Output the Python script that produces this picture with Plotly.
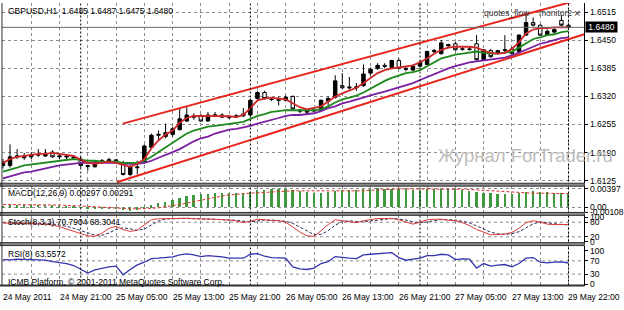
import plotly.graph_objects as go

W, H = 624, 310
FONT = "Liberation Sans, Arial, sans-serif"

bars = list(range(81))
time_labels = ["24 May 2011", "24 May 21:00", "25 May 05:00", "25 May 13:00", "25 May 21:00",
               "26 May 05:00", "26 May 13:00", "26 May 21:00", "27 May 05:00", "27 May 13:00",
               "29 May 22:00"]
time_label_bars = [0, 8, 16, 24, 32, 40, 48, 56, 64, 72, 80]
day_starts = [11, 35, 59, 80]
grid_bars = list(range(0, 81, 4))

opens = [1.6160, 1.6160, 1.6180, 1.6182, 1.6180, 1.6184, 1.6182, 1.6191, 1.6180, 1.6182,
         1.6180, 1.6175, 1.6160, 1.6157, 1.6168, 1.6171, 1.6173, 1.6166, 1.6139, 1.6157,
         1.6168, 1.6202, 1.6230, 1.6227, 1.6232, 1.6243, 1.6263, 1.6275, 1.6275, 1.6263,
         1.6276, 1.6277, 1.6272, 1.6272, 1.6275, 1.6277, 1.6315, 1.6329, 1.6314, 1.6311,
         1.6311, 1.6320, 1.6288, 1.6285, 1.6286, 1.6288, 1.6309, 1.6318, 1.6345, 1.6342,
         1.6340, 1.6345, 1.6374, 1.6385, 1.6392, 1.6387, 1.6403, 1.6385, 1.6381, 1.6390,
         1.6394, 1.6424, 1.6419, 1.6437, 1.6442, 1.6429, 1.6430, 1.6442, 1.6405, 1.6426,
         1.6421, 1.6427, 1.6430, 1.6424, 1.6462, 1.6491, 1.6485, 1.6462, 1.6469, 1.6496,
         1.6485]
highs = [1.6175, 1.6209, 1.6198, 1.6189, 1.6191, 1.6198, 1.6198, 1.6195, 1.6186, 1.6186,
         1.6184, 1.6180, 1.6162, 1.6171, 1.6175, 1.6178, 1.6175, 1.6171, 1.6162, 1.6171,
         1.6209, 1.6234, 1.6241, 1.6257, 1.6250, 1.6293, 1.6295, 1.6281, 1.6279, 1.6284,
         1.6284, 1.6281, 1.6277, 1.6279, 1.6293, 1.6315, 1.6333, 1.6333, 1.6318, 1.6320,
         1.6322, 1.6322, 1.6291, 1.6288, 1.6293, 1.6313, 1.6320, 1.6369, 1.6374, 1.6365,
         1.6351, 1.6394, 1.6387, 1.6397, 1.6397, 1.6405, 1.6408, 1.6390, 1.6394, 1.6403,
         1.6426, 1.6430, 1.6451, 1.6442, 1.6446, 1.6435, 1.6435, 1.6462, 1.6430, 1.6430,
         1.6428, 1.6462, 1.6435, 1.6464, 1.6509, 1.6503, 1.6487, 1.6475, 1.6478, 1.6509,
         1.6487]
lows = [1.6153, 1.6155, 1.6175, 1.6173, 1.6175, 1.6180, 1.6180, 1.6178, 1.6175, 1.6175,
        1.6173, 1.6155, 1.6148, 1.6155, 1.6166, 1.6168, 1.6166, 1.6137, 1.6135, 1.6139,
        1.6164, 1.6198, 1.6220, 1.6223, 1.6227, 1.6241, 1.6261, 1.6266, 1.6261, 1.6261,
        1.6272, 1.6270, 1.6268, 1.6270, 1.6272, 1.6275, 1.6313, 1.6313, 1.6309, 1.6299,
        1.6309, 1.6288, 1.6281, 1.6279, 1.6284, 1.6286, 1.6297, 1.6315, 1.6338, 1.6336,
        1.6333, 1.6342, 1.6369, 1.6381, 1.6385, 1.6385, 1.6383, 1.6378, 1.6378, 1.6387,
        1.6392, 1.6419, 1.6417, 1.6435, 1.6426, 1.6426, 1.6426, 1.6403, 1.6403, 1.6410,
        1.6417, 1.6419, 1.6417, 1.6419, 1.6460, 1.6482, 1.6460, 1.6460, 1.6466, 1.6482,
        1.6475]
closes = [1.6168, 1.6180, 1.6182, 1.6178, 1.6184, 1.6185, 1.6186, 1.6180, 1.6182, 1.6180,
          1.6178, 1.6160, 1.6158, 1.6168, 1.6171, 1.6173, 1.6171, 1.6139, 1.6157, 1.6155,
          1.6205, 1.6230, 1.6232, 1.6236, 1.6245, 1.6268, 1.6277, 1.6272, 1.6263, 1.6277,
          1.6277, 1.6272, 1.6271, 1.6275, 1.6279, 1.6311, 1.6329, 1.6315, 1.6313, 1.6313,
          1.6318, 1.6291, 1.6286, 1.6284, 1.6288, 1.6311, 1.6315, 1.6356, 1.6340, 1.6340,
          1.6342, 1.6372, 1.6383, 1.6392, 1.6390, 1.6403, 1.6385, 1.6383, 1.6390, 1.6399,
          1.6424, 1.6426, 1.6444, 1.6440, 1.6428, 1.6430, 1.6429, 1.6405, 1.6428, 1.6412,
          1.6426, 1.6428, 1.6419, 1.6462, 1.6491, 1.6485, 1.6462, 1.6471, 1.6475, 1.6485,
          1.6480]

ma_fast = [1.6166, 1.6175, 1.6180, 1.6182, 1.6184, 1.6187, 1.6187, 1.6189, 1.6187, 1.6184,
           1.6182, 1.6173, 1.6166, 1.6164, 1.6166, 1.6169, 1.6166, 1.6162, 1.6157, 1.6164,
           1.6175, 1.6200, 1.6218, 1.6232, 1.6241, 1.6259, 1.6270, 1.6275, 1.6275, 1.6275,
           1.6275, 1.6275, 1.6274, 1.6272, 1.6277, 1.6293, 1.6311, 1.6315, 1.6317, 1.6315,
           1.6313, 1.6304, 1.6295, 1.6290, 1.6293, 1.6297, 1.6308, 1.6320, 1.6327, 1.6333,
           1.6340, 1.6351, 1.6363, 1.6374, 1.6381, 1.6385, 1.6387, 1.6390, 1.6392, 1.6399,
           1.6408, 1.6419, 1.6428, 1.6433, 1.6435, 1.6435, 1.6435, 1.6433, 1.6426, 1.6421,
           1.6419, 1.6421, 1.6430, 1.6446, 1.6466, 1.6475, 1.6478, 1.6478, 1.6480, 1.6480,
           1.6480]
ma_mid = [1.6146, 1.6150, 1.6155, 1.6160, 1.6162, 1.6164, 1.6166, 1.6169, 1.6171, 1.6173,
          1.6175, 1.6173, 1.6171, 1.6171, 1.6169, 1.6169, 1.6169, 1.6166, 1.6166, 1.6166,
          1.6171, 1.6180, 1.6191, 1.6202, 1.6211, 1.6223, 1.6234, 1.6241, 1.6245, 1.6250,
          1.6252, 1.6254, 1.6257, 1.6259, 1.6261, 1.6268, 1.6275, 1.6279, 1.6284, 1.6286,
          1.6288, 1.6288, 1.6288, 1.6288, 1.6288, 1.6290, 1.6297, 1.6306, 1.6313, 1.6317,
          1.6322, 1.6329, 1.6338, 1.6347, 1.6356, 1.6363, 1.6369, 1.6374, 1.6376, 1.6381,
          1.6390, 1.6399, 1.6408, 1.6412, 1.6417, 1.6419, 1.6421, 1.6424, 1.6421, 1.6419,
          1.6419, 1.6421, 1.6424, 1.6433, 1.6444, 1.6453, 1.6457, 1.6462, 1.6464, 1.6469,
          1.6471]
ma_slow = [1.6130, 1.6135, 1.6139, 1.6144, 1.6146, 1.6150, 1.6153, 1.6157, 1.6160, 1.6162,
           1.6164, 1.6166, 1.6166, 1.6166, 1.6166, 1.6166, 1.6166, 1.6164, 1.6164, 1.6164,
           1.6166, 1.6171, 1.6178, 1.6184, 1.6191, 1.6198, 1.6207, 1.6216, 1.6223, 1.6227,
           1.6234, 1.6238, 1.6243, 1.6245, 1.6248, 1.6252, 1.6257, 1.6261, 1.6266, 1.6270,
           1.6275, 1.6277, 1.6277, 1.6279, 1.6281, 1.6286, 1.6293, 1.6297, 1.6304, 1.6308,
           1.6313, 1.6317, 1.6322, 1.6327, 1.6331, 1.6336, 1.6342, 1.6347, 1.6351, 1.6358,
           1.6365, 1.6372, 1.6378, 1.6385, 1.6390, 1.6394, 1.6399, 1.6401, 1.6403, 1.6405,
           1.6408, 1.6410, 1.6415, 1.6421, 1.6428, 1.6435, 1.6442, 1.6446, 1.6451, 1.6455,
           1.6457]

channel_upper_x = [16.95, 82.24]
channel_upper_y = [1.6257, 1.6547]
channel_lower_x = [16.1, 82.24]
channel_lower_y = [1.6121, 1.6464]

price_ticks = [1.6515, 1.6450, 1.6385, 1.6320, 1.6255, 1.6190, 1.6125]

macd = [0.0003, 0.0004, 0.0004, 0.0004, 0.0004, 0.0005, 0.0005, 0.0004, 0.0003, 0.0002,
        0.0001, -0.0001, -0.0003, -0.0003, -0.0003, -0.0003, -0.0003, -0.0006, -0.0007, -0.0006,
        -0.0002, 0.0004, 0.0008, 0.0012, 0.0015, 0.0020, 0.0024, 0.0026, 0.0027, 0.0029,
        0.0030, 0.0030, 0.0030, 0.0030, 0.0031, 0.0033, 0.0036, 0.0037, 0.0038, 0.0038,
        0.0038, 0.0036, 0.0034, 0.0032, 0.0031, 0.0031, 0.0032, 0.0035, 0.0036, 0.0037,
        0.0037, 0.0039, 0.0039, 0.00397, 0.0039, 0.0039, 0.0039, 0.0038, 0.0037, 0.0037,
        0.0038, 0.0039, 0.0039, 0.0039, 0.0038, 0.0036, 0.0034, 0.0033, 0.0031, 0.0030,
        0.0029, 0.0029, 0.0028, 0.0030, 0.0033, 0.0034, 0.0033, 0.0032, 0.0031, 0.0030,
        0.00297]
macd_signal = [0.0006, 0.0006, 0.0005, 0.0005, 0.0005, 0.0005, 0.0005, 0.0005, 0.0005, 0.0004,
               0.0004, 0.0003, 0.0002, 0.0001, 0.0000, -0.0001, -0.0001, -0.0002, -0.0003, -0.0003,
               -0.0003, -0.0002, -0.0001, 0.0001, 0.0003, 0.0006, 0.0009, 0.0012, 0.0015, 0.0019,
               0.0022, 0.0024, 0.0026, 0.0028, 0.0029, 0.0030, 0.0031, 0.0032, 0.0033, 0.0034,
               0.0035, 0.0035, 0.0035, 0.0035, 0.0035, 0.0034, 0.0034, 0.0034, 0.0034, 0.0034,
               0.0035, 0.0035, 0.0036, 0.0037, 0.0038, 0.0038, 0.0039, 0.0039, 0.0039, 0.0039,
               0.0039, 0.0039, 0.0039, 0.0039, 0.0039, 0.0038, 0.0038, 0.0037, 0.0036, 0.0035,
               0.0034, 0.0033, 0.0032, 0.0031, 0.0031, 0.0030, 0.0030, 0.0030, 0.0029, 0.0029,
               0.00291]
macd_ticks = [0.00397, 0.0, -0.00108]
macd_tick_text = ["0.00397", "0.00", "-0.00108"]

stoch_main = [77, 76, 76, 77, 76, 74, 72, 68, 62, 52,
              42, 32, 24, 22, 35, 55, 63, 50, 42, 48,
              70, 90, 94, 95, 96, 96, 96, 94, 92, 93,
              92, 91, 89, 85, 78, 84, 92, 90, 86, 86,
              80, 60, 40, 24, 22, 45, 70, 90, 86, 82,
              78, 86, 92, 95, 95, 95, 90, 82, 72, 80,
              90, 92, 92, 88, 86, 78, 66, 50, 38, 28,
              30, 31, 38, 55, 78, 86, 80, 72, 70, 71,
              70.7904]
stoch_signal = [78, 78, 77, 77, 76, 76, 75, 73, 69, 63,
                55, 45, 36, 27, 26, 36, 50, 57, 53, 46,
                52, 68, 85, 93, 95, 96, 96, 95, 94, 93,
                92, 92, 90, 88, 84, 82, 85, 89, 89, 87,
                84, 75, 60, 42, 29, 30, 45, 68, 82, 86,
                82, 82, 85, 91, 94, 95, 93, 89, 81, 78,
                81, 87, 91, 90, 89, 84, 77, 65, 51, 39,
                32, 30, 33, 41, 57, 73, 81, 79, 74, 71,
                68.3041]
stoch_levels = [20, 80]
stoch_ticks = [100, 80, 20, 0]

rsi = [74, 73, 75, 74, 74, 73, 72, 68, 66, 62,
       56, 45, 33, 43, 48, 52, 54, 28, 44, 58,
       66, 77, 78, 80, 82, 88, 91, 88, 83, 86,
       85, 82, 78, 77, 78, 90, 92, 84, 80, 79,
       78, 52, 46, 44, 48, 62, 68, 83, 80, 78,
       77, 88, 90, 92, 92, 95, 80, 72, 75, 78,
       86, 86, 90, 88, 74, 76, 75, 48, 62, 54,
       57, 59, 52, 62, 78, 80, 66, 64, 66, 67,
       63.5572]
rsi_levels = [30, 70]
rsi_ticks = [100, 70, 30, 0]


def py(pix):
    return (H - pix) / H


def px(pix):
    return pix / W


XDOM = [px(2), px(590)]
XRANGE = [-0.14, 82.24]
DOMS = {"y": [py(185), 1.0], "y2": [py(215), py(188)],
        "y3": [py(246), py(218)], "y4": [py(290), py(249)]}

fig = go.Figure()

fig.add_trace(go.Candlestick(
    x=bars, open=opens, high=highs, low=lows, close=closes,
    increasing=dict(line=dict(color="black", width=1), fillcolor="black"),
    decreasing=dict(line=dict(color="black", width=1), fillcolor="white"),
    whiskerwidth=0, xaxis="x", yaxis="y", showlegend=False, hoverinfo="skip"))

for vals, col in [(ma_slow, "#7b1fa2"), (ma_mid, "#1e8a1e"), (ma_fast, "#d02828")]:
    fig.add_trace(go.Scatter(x=bars, y=vals, mode="lines", line=dict(color=col, width=1.8),
                             xaxis="x", yaxis="y", showlegend=False, hoverinfo="skip"))

for cx, cy in [(channel_upper_x, channel_upper_y), (channel_lower_x, channel_lower_y)]:
    fig.add_trace(go.Scatter(x=cx, y=cy, mode="lines", line=dict(color="#e8261e", width=2),
                             xaxis="x", yaxis="y", showlegend=False, hoverinfo="skip"))

# MACD
fig.add_trace(go.Bar(x=bars, y=macd, width=0.25, marker=dict(color="#3f9a3f", line=dict(width=0)),
                     xaxis="x2", yaxis="y2", showlegend=False, hoverinfo="skip"))
fig.add_trace(go.Scatter(x=bars, y=macd_signal, mode="lines",
                         line=dict(color="#e03030", width=1, dash="3px,2px"),
                         xaxis="x2", yaxis="y2", showlegend=False, hoverinfo="skip"))

# Stochastic
for lv in stoch_levels:
    fig.add_trace(go.Scatter(x=XRANGE, y=[lv, lv], mode="lines",
                             line=dict(color="#8c8c8c", width=1, dash="3px,3px"),
                             xaxis="x3", yaxis="y3", showlegend=False, hoverinfo="skip"))
fig.add_trace(go.Scatter(x=bars, y=stoch_signal, mode="lines",
                         line=dict(color="#2a2a5a", width=1, dash="3px,2px"),
                         xaxis="x3", yaxis="y3", showlegend=False, hoverinfo="skip"))
fig.add_trace(go.Scatter(x=bars, y=stoch_main, mode="lines", line=dict(color="#d83a3a", width=1),
                         xaxis="x3", yaxis="y3", showlegend=False, hoverinfo="skip"))

# RSI
for lv in rsi_levels:
    fig.add_trace(go.Scatter(x=XRANGE, y=[lv, lv], mode="lines",
                             line=dict(color="#8c8c8c", width=1, dash="3px,3px"),
                             xaxis="x4", yaxis="y4", showlegend=False, hoverinfo="skip"))
fig.add_trace(go.Scatter(x=bars, y=rsi, mode="lines", line=dict(color="#3535b0", width=1.3),
                         xaxis="x4", yaxis="y4", showlegend=False, hoverinfo="skip"))

tickfont = dict(family=FONT, size=8.5, color="black")
xcommon = dict(domain=XDOM, range=XRANGE, showticklabels=False, tickvals=grid_bars,
               showgrid=True, gridcolor="#8c8c8c", griddash="3px,3px", gridwidth=1,
               zeroline=False, showline=False, ticks="", fixedrange=True)
ycommon = dict(side="right", showline=True, linecolor="black", linewidth=1, ticks="outside",
               ticklen=3, tickcolor="black", tickfont=tickfont, zeroline=False, fixedrange=True)

layout = dict(
    width=W, height=H, margin=dict(l=0, r=0, t=0, b=0),
    paper_bgcolor="white", plot_bgcolor="white", showlegend=False, bargap=0,
    xaxis=dict(**xcommon, anchor="y", rangeslider=dict(visible=False)),
    xaxis2=dict(**xcommon, anchor="y2", matches="x"),
    xaxis3=dict(**xcommon, anchor="y3", matches="x"),
    xaxis4=dict(**xcommon, anchor="y4", matches="x"),
    yaxis=dict(**ycommon, domain=DOMS["y"], anchor="x", range=[1.61189, 1.65364],
               tickvals=price_ticks, ticktext=["%.4f" % v for v in price_ticks],
               showgrid=True, gridcolor="#8c8c8c", griddash="3px,3px"),
    yaxis2=dict(**ycommon, domain=DOMS["y2"], anchor="x2", range=[-0.00108, 0.00449],
                tickvals=macd_ticks, ticktext=macd_tick_text,
                showgrid=True, gridcolor="#8c8c8c", griddash="3px,3px"),
    yaxis3=dict(**ycommon, domain=DOMS["y3"], anchor="x3", range=[-4, 108],
                tickvals=stoch_ticks, ticktext=[str(v) for v in stoch_ticks], showgrid=False),
    yaxis4=dict(**ycommon, domain=DOMS["y4"], anchor="x4", range=[-4.4, 116.2],
                tickvals=rsi_ticks, ticktext=[str(v) for v in rsi_ticks], showgrid=False),
)
fig.update_layout(**layout)

shapes = []
# current price line
shapes.append(dict(type="line", xref="paper", yref="y", x0=XDOM[0], x1=XDOM[1],
                   y0=closes[-1], y1=closes[-1], line=dict(color="#6a6a6a", width=1)))
# period separators
for d in day_starts:
    shapes.append(dict(type="line", xref="x", yref="paper", x0=d, x1=d, y0=py(290), y1=1.0,
                       line=dict(color="black", width=1, dash="2px,2px")))
# splitters between panels
for top, bot in [(185, 188), (215, 218), (246, 249)]:
    shapes.append(dict(type="rect", xref="paper", yref="paper", x0=px(0), x1=XDOM[1],
                       y0=py(bot), y1=py(top), fillcolor="#8a8a8a",
                       line=dict(color="#303030", width=1), layer="above"))
# left border and bottom border
shapes.append(dict(type="line", xref="paper", yref="paper", x0=XDOM[0], x1=XDOM[0],
                   y0=py(290), y1=1.0, line=dict(color="#303030", width=1)))
shapes.append(dict(type="line", xref="paper", yref="paper", x0=px(0), x1=XDOM[1],
                   y0=py(290), y1=py(290), line=dict(color="#303030", width=2)))
fig.update_layout(shapes=shapes)

ann = []


def text(x, y, s, size=8.5, color="black", anchor="left", **kw):
    ann.append(dict(xref="paper", yref="paper", x=px(x), y=py(y), text=s, showarrow=False,
                    xanchor=anchor, yanchor="middle",
                    font=dict(family=FONT, size=size, color=color), **kw))


text(6, 8, "GBPUSD,H1  1.6485 1.6487 1.6475 1.6480")
text(487, 10, "quotes_flow", color="#333333")
text(542, 10, "monitor2", color="#333333")
text(578, 10, "×", size=11, color="#202020")
text(440, 157, "Журнал ForTrader.ru", size=18.5, color="#bdbdbd")
text(6, 195, "MACD(12,26,9) 0.00297 0.00291")
text(6, 225, "Stoch(8,3,3) 70.7904 68.3041")
text(6, 258, "RSI(8) 63.5572")
text(6, 286, "ICMB Platform, © 2001-2011 MetaQuotes Software Corp.")

for b, lab in zip(time_label_bars, time_labels):
    ann.append(dict(xref="x", yref="paper", x=b, y=py(302), text=lab, showarrow=False,
                    xanchor="left", yanchor="middle", xshift=-2,
                    font=dict(family=FONT, size=8.5, color="black")))

ann.append(dict(xref="paper", yref="y", x=1.0, y=closes[-1], text="%.4f" % closes[-1],
                showarrow=False, xanchor="right", yanchor="middle", width=31, height=10,
                bgcolor="black", font=dict(family=FONT, size=8.5, color="white"), borderpad=0))

fig.update_layout(annotations=ann)
fig.write_html("out.html")
